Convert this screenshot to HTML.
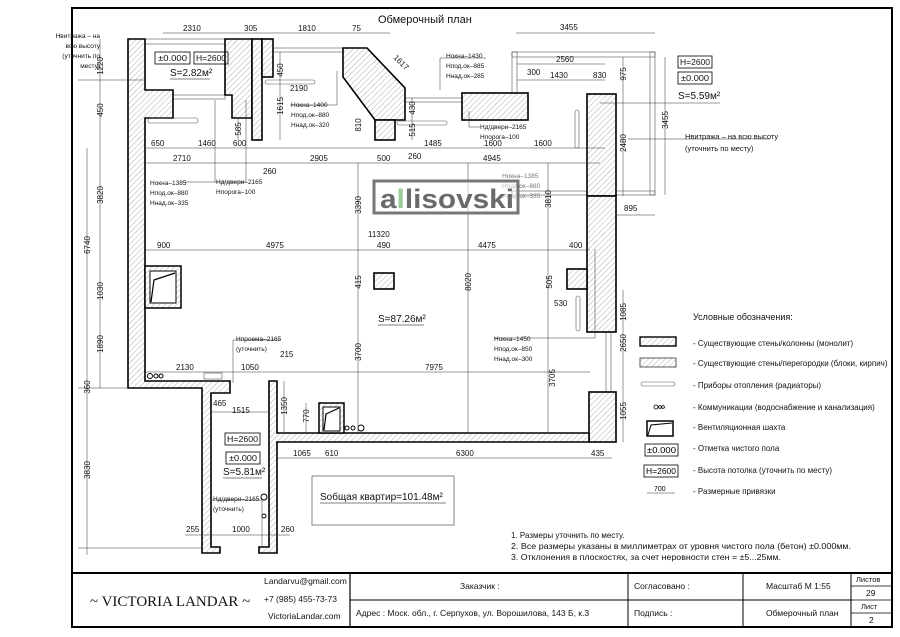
<!DOCTYPE html>
<html><head><meta charset="utf-8">
<style>
html,body{margin:0;padding:0;background:#fff;}
svg{display:block;font-family:"Liberation Sans Narrow","Liberation Sans","DejaVu Sans",sans-serif;}
.d{font-size:8px;fill:#111;}
.n{font-size:6.5px;fill:#111;}
.w{fill:url(#h);stroke:#000;stroke-width:1.6;}
.t{stroke:#555;stroke-width:0.6;fill:none;}
.dl{stroke:#333;stroke-width:0.5;fill:none;}
.lg{font-size:8px;fill:#111;}
</style></head><body>
<svg width="900" height="637" viewBox="0 0 900 637" xmlns="http://www.w3.org/2000/svg">
<defs>
<pattern id="h" patternUnits="userSpaceOnUse" width="4" height="4" patternTransform="rotate(45)">
<rect width="4" height="4" fill="#fff"/><line x1="0" y1="0" x2="0" y2="4" stroke="#999" stroke-width="0.8"/>
</pattern>
</defs>
<rect x="0" y="0" width="900" height="637" fill="#fff"/>
<rect x="72" y="8" width="820" height="619" fill="none" stroke="#000" stroke-width="2"/>
<text x="378" y="23" style="font-size:11px" fill="#111">Обмерочный план</text>

<g class="t">
<rect x="145" y="39" width="81" height="5"/>
<rect x="273" y="48" width="70" height="4"/>
<rect x="405" y="98" width="57" height="4"/>
<rect x="512" y="52" width="143" height="5"/>
<rect x="650" y="52" width="5" height="143"/>
<rect x="512" y="191" width="143" height="4"/>
<rect x="512" y="52" width="5" height="41"/>
<rect x="606" y="332" width="5" height="60"/>
<rect x="173" y="95" width="52" height="4"/>
</g>

<polygon class="w" points="128,39 145,39 145,90 173,90 173,118 145,118 145,381 230,381 230,393 211,393 211,547 220,547 220,553 202,553 202,388 128,388"/>
<polygon class="w" points="225,39 252,39 252,118 232,118 232,95 225,95"/>
<rect class="w" x="252" y="39" width="10" height="101"/>
<rect class="w" x="262" y="39" width="11" height="38"/>
<polygon class="w" points="343,48 367,48 405,88 405,120 375,120 343,77"/>
<rect class="w" x="375" y="120" width="20" height="20"/>
<rect class="w" x="462" y="93" width="66" height="27"/>
<rect class="w" x="587" y="94" width="29" height="102"/>
<rect class="w" x="587" y="196" width="29" height="136"/>
<rect class="w" x="589" y="392" width="27" height="50"/>
<polygon class="w" points="269,381 277,381 277,433 589,433 589,442 277,442 277,553 259,553 259,547 269,547"/>
<rect class="w" x="567" y="269" width="20" height="20"/>
<rect class="w" x="374" y="273" width="20" height="16"/>
<rect x="145" y="266" width="36" height="42" fill="url(#h)" stroke="#000" stroke-width="1.5"/>
<rect x="150" y="271" width="26" height="32" fill="#fff" stroke="#000" stroke-width="1"/>
<polyline points="151,302 154,280 175,273" fill="none" stroke="#000" stroke-width="1.2"/>
<rect x="319" y="403" width="25" height="30" fill="url(#h)" stroke="#000" stroke-width="1.5"/>
<rect x="323" y="407" width="17" height="24" fill="#fff" stroke="#000" stroke-width="1"/>
<polyline points="324,430 326,414 339,408" fill="none" stroke="#000" stroke-width="1.2"/>
<g fill="#fff" stroke="#000" stroke-width="1">
<circle cx="150" cy="376" r="2.5"/><circle cx="156" cy="376" r="2"/><circle cx="161" cy="376" r="2"/>
<circle cx="347" cy="428" r="2"/><circle cx="353" cy="428" r="2"/><circle cx="361" cy="428" r="3"/>
<circle cx="264" cy="497" r="3"/><circle cx="264" cy="516" r="2"/>
</g>
<g class="t" stroke="#333">
<rect x="265" y="80" width="50" height="4" rx="2"/>
<rect x="148" y="118" width="50" height="5" rx="2"/>
<rect x="397" y="121" width="50" height="4" rx="2"/>
<rect x="575" y="110" width="4" height="38" rx="2"/>
<rect x="576" y="296" width="4" height="35" rx="2"/>
<rect x="204" y="373" width="18" height="6"/>
</g>

<g class="dl">
<line x1="163" y1="33" x2="390" y2="33"/>
<line x1="516" y1="33" x2="655" y2="33"/>
<line x1="100" y1="39" x2="100" y2="388"/>
<line x1="87" y1="148" x2="87" y2="388"/>
<line x1="87" y1="388" x2="87" y2="555"/>
<line x1="145" y1="148" x2="605" y2="148"/>
<line x1="145" y1="163" x2="600" y2="163"/>
<line x1="145" y1="250" x2="590" y2="250"/>
<line x1="145" y1="372" x2="590" y2="372"/>
<line x1="277" y1="458" x2="612" y2="458"/>
<line x1="358" y1="163" x2="358" y2="433"/>
<line x1="468" y1="163" x2="468" y2="433"/>
<line x1="548" y1="163" x2="548" y2="433"/>
<line x1="623" y1="57" x2="623" y2="196"/>
<line x1="623" y1="290" x2="623" y2="442"/>
<line x1="665" y1="57" x2="665" y2="195"/>
<line x1="517" y1="64" x2="605" y2="64"/>
<line x1="517" y1="80" x2="605" y2="80"/>
<line x1="616" y1="215" x2="655" y2="215"/>
<line x1="284" y1="381" x2="284" y2="433"/>
<line x1="306" y1="403" x2="306" y2="433"/>
<line x1="211" y1="412" x2="269" y2="412"/>
<line x1="185" y1="535" x2="290" y2="535"/>
<line x1="78" y1="548" x2="202" y2="548"/>
<line x1="78" y1="80" x2="145" y2="80"/>
<line x1="78" y1="388" x2="128" y2="388"/>
<line x1="280" y1="52" x2="280" y2="140"/>
<line x1="412" y1="98" x2="412" y2="140"/>
<line x1="238" y1="118" x2="238" y2="140"/>
<line x1="628" y1="139" x2="770" y2="139"/>
<line x1="600" y1="103" x2="720" y2="103"/>
</g>
<g class="dl">
<polyline points="246,100 246,182 185,182"/>
<polyline points="215,100 215,182"/>
<polyline points="337,71 337,105 290,105"/>
<polyline points="440,90 440,58 486,58"/>
<polyline points="469,111 469,127 480,127"/>
<polyline points="595,249 595,338 494,338"/>
<polyline points="233,383 233,340 280,340"/>
<polyline points="262,548 262,500 212,500"/>
</g>

<g class="d">
<text x="183" y="31">2310</text><text x="244" y="31">305</text><text x="298" y="31">1810</text><text x="352" y="31">75</text>
<text x="560" y="30">3455</text>
<text x="556" y="62">2560</text><text x="527" y="75">300</text><text x="550" y="78">1430</text><text x="593" y="78">830</text>
<text x="624" y="211">895</text>
<text x="151" y="146">650</text><text x="198" y="146">1460</text><text x="233" y="146">600</text>
<text x="424" y="146">1485</text><text x="484" y="146">1600</text><text x="534" y="146">1600</text>
<text x="173" y="161">2710</text><text x="310" y="161">2905</text><text x="377" y="161">500</text><text x="483" y="161">4945</text>
<text x="263" y="174">260</text><text x="408" y="159">260</text><text x="290" y="91">2190</text>
<text x="368" y="237">11320</text>
<text x="157" y="248">900</text><text x="266" y="248">4975</text><text x="377" y="248">490</text><text x="478" y="248">4475</text><text x="569" y="248">400</text>
<text x="176" y="370">2130</text><text x="241" y="370">1050</text><text x="280" y="357">215</text><text x="425" y="370">7975</text>
<text x="213" y="406">465</text><text x="232" y="413">1515</text>
<text x="293" y="456">1065</text><text x="325" y="456">610</text><text x="456" y="456">6300</text><text x="591" y="456">435</text>
<text x="186" y="532">255</text><text x="232" y="532">1000</text><text x="281" y="532">260</text>
<text x="554" y="306">530</text>
</g>
<g class="d">
<text transform="translate(103,66) rotate(-90)" text-anchor="middle">1220</text>
<text transform="translate(103,110) rotate(-90)" text-anchor="middle">450</text>
<text transform="translate(103,195) rotate(-90)" text-anchor="middle">3820</text>
<text transform="translate(90,245) rotate(-90)" text-anchor="middle">6740</text>
<text transform="translate(103,291) rotate(-90)" text-anchor="middle">1030</text>
<text transform="translate(103,344) rotate(-90)" text-anchor="middle">1890</text>
<text transform="translate(90,387) rotate(-90)" text-anchor="middle">360</text>
<text transform="translate(90,470) rotate(-90)" text-anchor="middle">3830</text>
<text transform="translate(283,70) rotate(-90)" text-anchor="middle">450</text>
<text transform="translate(283,106) rotate(-90)" text-anchor="middle">1615</text>
<text transform="translate(241,129) rotate(-90)" text-anchor="middle">585</text>
<text transform="translate(361,125) rotate(-90)" text-anchor="middle">810</text>
<text transform="translate(415,108) rotate(-90)" text-anchor="middle">430</text>
<text transform="translate(415,130) rotate(-90)" text-anchor="middle">515</text>
<text transform="translate(361,205) rotate(-90)" text-anchor="middle">3390</text>
<text transform="translate(361,282) rotate(-90)" text-anchor="middle">415</text>
<text transform="translate(361,352) rotate(-90)" text-anchor="middle">3700</text>
<text transform="translate(471,282) rotate(-90)" text-anchor="middle">8020</text>
<text transform="translate(551,199) rotate(-90)" text-anchor="middle">3810</text>
<text transform="translate(555,378) rotate(-90)" text-anchor="middle">3705</text>
<text transform="translate(552,282) rotate(-90)" text-anchor="middle">505</text>
<text transform="translate(626,74) rotate(-90)" text-anchor="middle">975</text>
<text transform="translate(626,143) rotate(-90)" text-anchor="middle">2480</text>
<text transform="translate(668,120) rotate(-90)" text-anchor="middle">3455</text>
<text transform="translate(626,312) rotate(-90)" text-anchor="middle">1085</text>
<text transform="translate(626,343) rotate(-90)" text-anchor="middle">2650</text>
<text transform="translate(626,411) rotate(-90)" text-anchor="middle">1055</text>
<text transform="translate(287,406) rotate(-90)" text-anchor="middle">1350</text>
<text transform="translate(309,416) rotate(-90)" text-anchor="middle">770</text>
<text transform="translate(393,58) rotate(45)">1617</text>
</g>

<g class="n">
<text x="100" y="38" text-anchor="end">Нвитража – на</text>
<text x="100" y="48" text-anchor="end">всю высоту</text>
<text x="100" y="58" text-anchor="end">(уточнить по</text>
<text x="100" y="68" text-anchor="end">месту)</text>
<text x="446" y="58">Нокна–1430</text><text x="446" y="68">Нпод.ок–885</text><text x="446" y="78">Ннад.ок–285</text>
<text x="291" y="107">Нокна–1400</text><text x="291" y="117">Нпод.ок–880</text><text x="291" y="127">Ннад.ок–320</text>
<text x="150" y="185">Нокна–1385</text><text x="150" y="195">Нпод.ок–880</text><text x="150" y="205">Ннад.ок–335</text>
<text x="216" y="184">Нд/двери–2165</text><text x="216" y="194">Нпорога–100</text>
<text x="480" y="129">Нд/двери–2165</text><text x="480" y="139">Нпорога–100</text>
<text x="502" y="178" fill="#777">Нокна–1385</text><text x="502" y="188" fill="#777">Нпод.ок–880</text><text x="502" y="198" fill="#777">Ннад.ок–335</text>
<text x="494" y="341">Нокна–1450</text><text x="494" y="351">Нпод.ок–850</text><text x="494" y="361">Ннад.ок–300</text>
<text x="236" y="341">Нпроема–2165</text><text x="236" y="351">(уточнить)</text>
<text x="213" y="501">Нд/двери–2165</text><text x="213" y="511">(уточнить)</text>
</g>
<text x="685" y="139" style="font-size:7.5px" fill="#111">Нвитража – на всю высоту</text>
<text x="685" y="151" style="font-size:7.5px" fill="#111">(уточнить по месту)</text>

<g style="font-size:8.5px" fill="#111">
<rect x="155" y="52" width="35" height="12" fill="none" stroke="#000" stroke-width="0.8"/><text x="158" y="61" textLength="29" lengthAdjust="spacingAndGlyphs">±0.000</text>
<rect x="194" y="52" width="34" height="12" fill="none" stroke="#000" stroke-width="0.8"/><text x="196" y="61" textLength="30" lengthAdjust="spacingAndGlyphs">H=2600</text>
<text x="170" y="76" style="font-size:10px">S=2.82м²</text><line x1="170" y1="79" x2="210" y2="79" stroke="#000" stroke-width="0.6"/>
<rect x="678" y="56" width="34" height="12" fill="none" stroke="#000" stroke-width="0.8"/><text x="680" y="65" textLength="30" lengthAdjust="spacingAndGlyphs">H=2600</text>
<rect x="678" y="72" width="34" height="12" fill="none" stroke="#000" stroke-width="0.8"/><text x="681" y="81" textLength="28" lengthAdjust="spacingAndGlyphs">±0.000</text>
<text x="678" y="99" style="font-size:10px">S=5.59м²</text>
<rect x="225" y="433" width="35" height="12" fill="none" stroke="#000" stroke-width="0.8"/><text x="227" y="442" textLength="31" lengthAdjust="spacingAndGlyphs">H=2600</text>
<rect x="226" y="452" width="34" height="12" fill="none" stroke="#000" stroke-width="0.8"/><text x="229" y="461" textLength="28" lengthAdjust="spacingAndGlyphs">±0.000</text>
<text x="223" y="475" style="font-size:10px">S=5.81м²</text><line x1="223" y1="478" x2="262" y2="478" stroke="#000" stroke-width="0.6"/>
<text x="378" y="322" style="font-size:10px">S=87.26м²</text><line x1="378" y1="325" x2="424" y2="325" stroke="#000" stroke-width="0.6"/>
<rect x="312" y="476" width="142" height="49" fill="none" stroke="#666" stroke-width="0.8"/>
<text x="320" y="500" style="font-size:10px">Sобщая квартир=101.48м²</text><line x1="320" y1="503" x2="446" y2="503" stroke="#000" stroke-width="0.6"/>
</g>

<rect x="374" y="181" width="144" height="32" fill="rgba(255,255,255,0.5)" stroke="#777" stroke-width="3"/>
<text x="380" y="208" style="font-size:27px;font-weight:bold;font-family:'Liberation Sans',sans-serif" fill="#6a6a6a" textLength="134" lengthAdjust="spacingAndGlyphs">a<tspan fill="#9c9">l</tspan>lisovski</text>

<text x="693" y="320" style="font-size:9px" fill="#111">Условные обозначения:</text>
<rect x="640" y="337" width="36" height="9" fill="url(#h)" stroke="#000" stroke-width="1.4"/>
<rect x="640" y="358" width="36" height="9" fill="url(#h)" stroke="#333" stroke-width="0.8"/>
<rect x="641" y="382" width="34" height="4" rx="2" class="t"/>
<g fill="#fff" stroke="#000" stroke-width="0.8"><circle cx="656" cy="407" r="2"/><circle cx="660" cy="407" r="1.4"/><circle cx="663" cy="407" r="1.4"/></g>
<rect x="647" y="421" width="26" height="15" fill="#fff" stroke="#000" stroke-width="1.5"/>
<polyline points="648,435 651,425 672,423" fill="none" stroke="#000" stroke-width="1"/>
<rect x="645" y="444" width="33" height="12" fill="none" stroke="#000" stroke-width="0.8"/><text x="647" y="453" style="font-size:8.5px" textLength="29" lengthAdjust="spacingAndGlyphs">±0.000</text>
<rect x="644" y="465" width="34" height="12" fill="none" stroke="#000" stroke-width="0.8"/><text x="646" y="474" style="font-size:8.5px" textLength="30" lengthAdjust="spacingAndGlyphs">H=2600</text>
<line x1="647" y1="493" x2="675" y2="493" class="dl"/><text x="654" y="491" style="font-size:7px">700</text>
<g class="lg">
<text x="693" y="346">- Существующие стены/колонны (монолит)</text>
<text x="693" y="366">- Существующие стены/перегородки (блоки, кирпич)</text>
<text x="693" y="388">- Приборы отопления (радиаторы)</text>
<text x="693" y="410">- Коммуникации (водоснабжение и канализация)</text>
<text x="693" y="430">- Вентиляционная шахта</text>
<text x="693" y="451">- Отметка чистого пола</text>
<text x="693" y="473">- Высота потолка (уточнить по месту)</text>
<text x="693" y="494">- Размерные привязки</text>
</g>
<g style="font-size:8px" fill="#111">
<text x="511" y="538">1.  Размеры уточнить по месту.</text>
<text x="511" y="549" textLength="340" lengthAdjust="spacingAndGlyphs">2.  Все размеры указаны в миллиметрах от уровня чистого пола (бетон) ±0.000мм.</text>
<text x="511" y="560" textLength="270" lengthAdjust="spacingAndGlyphs">3.  Отклонения в плоскостях, за счет неровности стен = ±5...25мм.</text>
</g>

<g stroke="#000" fill="none">
<line x1="72" y1="573" x2="892" y2="573" stroke-width="2"/>
<line x1="350" y1="573" x2="350" y2="627" stroke-width="1.2"/>
<line x1="350" y1="600" x2="851" y2="600" stroke-width="1"/>
<line x1="628" y1="573" x2="628" y2="627" stroke-width="1"/>
<line x1="743" y1="573" x2="743" y2="627" stroke-width="1"/>
<line x1="851" y1="573" x2="851" y2="627" stroke-width="1"/>
<line x1="851" y1="586" x2="892" y2="586" stroke-width="0.8"/>
<line x1="851" y1="600" x2="892" y2="600" stroke-width="0.8"/>
<line x1="851" y1="613" x2="892" y2="613" stroke-width="0.8"/>
</g>
<text x="90" y="606" style="font-size:15px;font-family:'Liberation Serif',serif" fill="#111">~ VICTORIA LANDAR ~</text>
<g style="font-size:8.5px" fill="#111">
<text x="264" y="584">Landarvu@gmail.com</text>
<text x="264" y="602">+7 (985) 455-73-73</text>
<text x="268" y="619">VictoriaLandar.com</text>
<text x="460" y="589">Заказчик :</text>
<text x="356" y="616">Адрес : Моск. обл., г. Серпухов, ул. Ворошилова, 143 Б, к.3</text>
<text x="634" y="589">Согласовано :</text>
<text x="634" y="616">Подпись :</text>
<text x="766" y="589">Масштаб М 1:55</text>
<text x="766" y="616">Обмерочный план</text>
<text x="856" y="582" style="font-size:7.5px">Листов</text>
<text x="866" y="596">29</text>
<text x="861" y="609" style="font-size:7.5px">Лист</text>
<text x="869" y="623">2</text>
</g>
</svg>
</body></html>
